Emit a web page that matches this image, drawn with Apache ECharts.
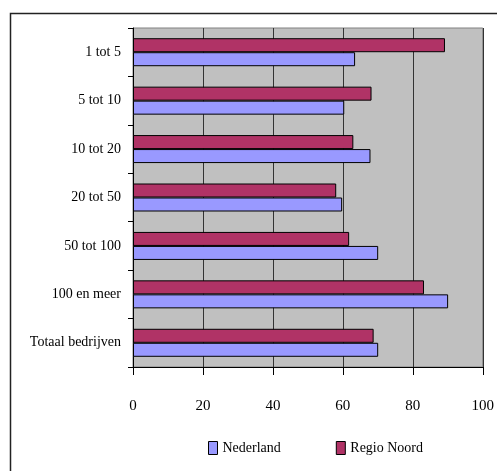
<!DOCTYPE html>
<html>
<head>
<meta charset="utf-8">
<script src="https://cdn.jsdelivr.net/npm/echarts@6/dist/echarts.min.js"></script>
<style>
  html, body { margin: 0; padding: 0; background: #fff; }
  #chart { width: 497px; height: 471px; }
</style>
</head>
<body>
<div id="chart"></div>
<script>
const categories = ['1 tot 5', '5 tot 10', '10 tot 20', '20 tot 50', '50 tot 100', '100 en meer', 'Totaal bedrijven']
const nederland = [63.5, 60.4, 67.9, 59.8, 70.1, 90.1, 70.1]
const regioNoord = [89.2, 68.2, 63.0, 58.1, 61.8, 83.2, 68.8]
const xTicks = [0, 20, 40, 60, 80, 100]

const font = 'Liberation Serif'
const colors = ['#9999FF', '#B03366']

const myChart = echarts.init(document.getElementById('chart'))
myChart.setOption({
  animation: false,
  textStyle: { fontFamily: font },
  graphic: [{
    type: 'rect',
    shape: { x: 10.5, y: 13.5, width: 600, height: 600 },
    style: { fill: null, stroke: '#222', lineWidth: 1.5 },
    silent: true
  }],
  grid: {
    left: 133, top: 28, right: 12, bottom: 104,
    show: true, backgroundColor: '#C0C0C0', borderColor: '#808080', borderWidth: 1
  },
  legend: {
    data: ['Nederland', 'Regio Noord'],
    left: 203, top: 436,
    itemWidth: 9, itemHeight: 13, itemGap: 55,
    icon: 'rect',
    textStyle: { fontFamily: font, fontSize: 14, color: '#000' },
    itemStyle: { borderColor: '#000', borderWidth: 1 }
  },
  xAxis: {
    type: 'value', min: xTicks[0], max: xTicks[xTicks.length - 1], interval: 20,
    axisLine: { show: true, lineStyle: { color: '#000', width: 1 } },
    axisTick: { show: true, length: 8, lineStyle: { color: '#000' } },
    axisLabel: { margin: 32, fontSize: 15, color: '#000', fontFamily: font },
    splitLine: { show: true, lineStyle: { color: '#333', width: 1 } }
  },
  yAxis: {
    type: 'category', data: categories, inverse: true,
    axisLine: { show: true, lineStyle: { color: '#000', width: 1 } },
    axisTick: { show: true, length: 5, lineStyle: { color: '#000' } },
    axisLabel: { margin: 12, fontSize: 14, color: '#000', fontFamily: font }
  },
  series: [
    {
      name: 'Regio Noord', type: 'bar', data: regioNoord, barWidth: 14, barGap: '0%',
      itemStyle: { color: colors[1], borderColor: '#000', borderWidth: 1 }
    },
    {
      name: 'Nederland', type: 'bar', data: nederland, barWidth: 14, barGap: '0%',
      itemStyle: { color: colors[0], borderColor: '#000', borderWidth: 1 }
    }
  ]
})
</script>
</body>
</html>
